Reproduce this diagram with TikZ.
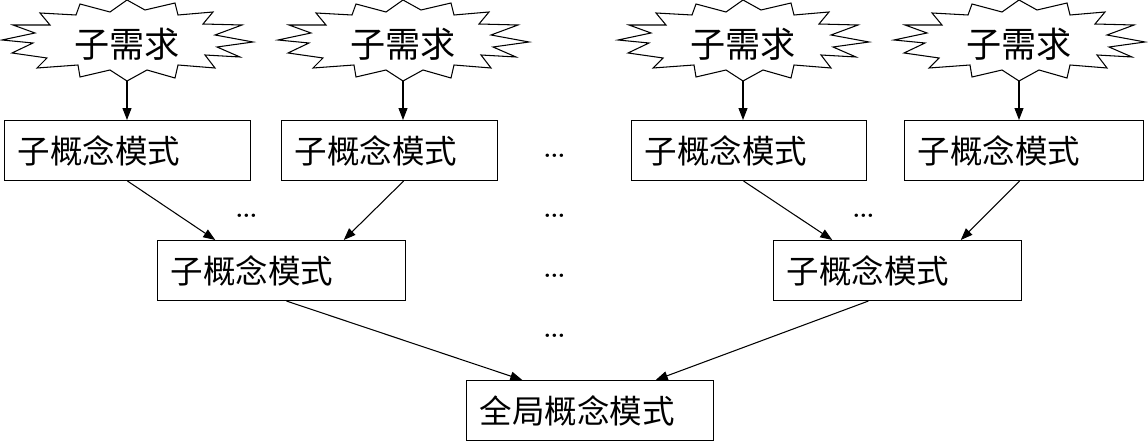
\documentclass[tikz,border=0pt]{standalone}
\usepackage{fontspec}
\newfontfamily\cjk{Noto Sans CJK SC}
\usetikzlibrary{arrows.meta, calc}

\tikzset{
  box/.style={draw, rectangle, anchor=north west, line width=0.6pt, text width=#1,
    minimum height=1.2cm, inner xsep=0.26cm, inner ysep=0pt, align=left,
    font=\cjk\fontsize{18.5}{20}\selectfont},
  link/.style={-{Triangle[length=0.24cm, width=0.18cm]}, line width=0.6pt},
  dots/.style={inner sep=0pt, font=\fontsize{24}{24}\selectfont},
  burst/.pic={
    \draw[line width=0.6pt, fill=white] (0,41) -- (-17,29) -- (-47,37) -- (-51,26)
      -- (-87,28) -- (-77,16) -- (-114,16) -- (-92,8) -- (-125,1) -- (-94,-2)
      -- (-115,-12) -- (-80,-17) -- (-90,-27) -- (-49,-24) -- (-47,-36) -- (-17,-29)
      -- (0,-40) -- (20,-29) -- (48,-37) -- (51,-24) -- (88,-27) -- (78,-14)
      -- (113,-16) -- (90,-6) -- (126,-1) -- (88,6) -- (115,16) -- (76,17)
      -- (86,29) -- (51,26) -- (48,38) -- (18,31) -- cycle;
    \node[inner sep=0pt, font=\cjk\fontsize{20}{22}\selectfont] (-txt) at (0,-3) {#1};
    \coordinate (-tip) at (0,-40);
  }
}

\begin{document}
\begin{tikzpicture}[x=0.02cm, y=0.02cm]
    \useasboundingbox (0,0) rectangle (1148,-442);

    % requirements
    \foreach \x/\n in {127/s1, 403/s2, 743/s3, 1019/s4}
        \pic (\n) at (\x,-41) {burst=子需求};

    % sub schemas
    \node[box=4.40cm] (b1) at (4,-120) {子概念模式};
    \node[box=3.80cm] (b2) at (281,-120) {子概念模式};
    \node[box=4.18cm] (b3) at (631,-120) {子概念模式};
    \node[box=4.26cm] (b4) at (904,-120) {子概念模式};
    \node[box=4.44cm] (b5) at (157,-240) {子概念模式};
    \node[box=4.44cm] (b6) at (773,-240) {子概念模式};
    \node[box=4.42cm] (b7) at (466,-380) {全局概念模式};

    % ellipses
    \node[dots] (d1) at (555,-156) {\ldots};
    \node[dots] (d2) at (555,-216) {\ldots};
    \node[dots] (d3) at (555,-276) {\ldots};
    \node[dots] (d4) at (555,-336) {\ldots};
    \node[dots] (d5) at (247,-216) {\ldots};
    \node[dots] (d6) at (864,-216) {\ldots};

    % arrows
    \foreach \n/\b in {s1/b1, s2/b2, s3/b3, s4/b4}
        \draw[link] (\n-tip) -- (\n-tip |- \b.north);
    \draw[link] (b1.south) -- ($(b5.north west)!0.234!(b5.north east)$);
    \draw[link] ($(b2.south west)!0.565!(b2.south east)$) -- ($(b5.north west)!0.75!(b5.north east)$);
    \draw[link] ($(b3.south west)!0.477!(b3.south east)$) -- ($(b6.north west)!0.238!(b6.north east)$);
    \draw[link] ($(b4.south west)!0.481!(b4.south east)$) -- ($(b6.north west)!0.754!(b6.north east)$);
    \draw[link] ($(b5.south west)!0.52!(b5.south east)$) -- ($(b7.north west)!0.227!(b7.north east)$);
    \draw[link] ($(b6.south west)!0.383!(b6.south east)$) -- ($(b7.north west)!0.765!(b7.north east)$);
\end{tikzpicture}
\end{document}
